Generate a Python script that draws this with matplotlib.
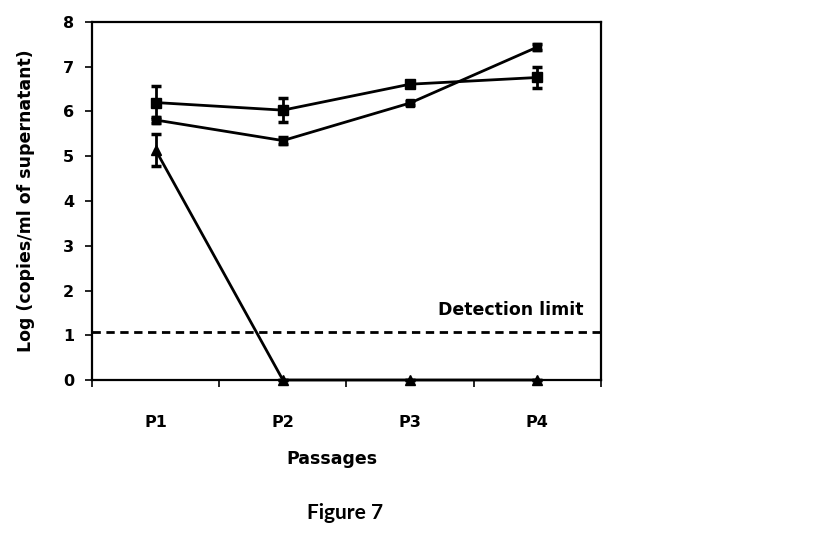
import matplotlib.pyplot as plt
from matplotlib.ticker import FixedLocator, NullFormatter

passagen = ["P1", "P2", "P3", "P4"]
x_pos = [0.5, 1.5, 2.5, 3.5]

# Reihe mit Quadraten (oben bei P1)
reihe_a = [6.20, 6.03, 6.61, 6.76]
fehler_a = [0.37, 0.27, 0.05, 0.24]

# Reihe mit kleinen Markern (Mitte bei P1)
reihe_b = [5.81, 5.35, 6.19, 7.44]
fehler_b = [0.06, 0.08, 0.05, 0.07]

# Reihe mit Dreiecken
reihe_c = [5.14, 0.0, 0.0, 0.0]
fehler_c = [0.36, 0.0, 0.0, 0.0]

nachweisgrenze = 1.07

fett = {"weight": "bold", "family": "DejaVu Sans"}

fig = plt.figure(figsize=(8.15, 5.35), dpi=100)
ax = fig.add_axes([0.1129, 0.2897, 0.6245, 0.6692])

for werte, fehler, marker, groesse in [(reihe_a, fehler_a, "s", 7),
                                       (reihe_b, fehler_b, "s", 5.5),
                                       (reihe_c, fehler_c, "^", 7.5)]:
    teile = ax.errorbar(x_pos, werte, yerr=fehler, color="black", lw=2.0, marker=marker,
                        markersize=groesse, capsize=3.5, capthick=2.5, elinewidth=2.0)
    for kuenstler in teile.lines[0:1] + tuple(teile.lines[1]) + tuple(teile.lines[2]):
        kuenstler.set_clip_on(False)

ax.axhline(nachweisgrenze, color="black", lw=2.0, ls=(0, (3, 2)))
ax.text(3.86, 1.56, "Detection limit", ha="right", va="center", fontsize=12.5, **fett)

ax.set_xlim(0, 4)
ax.set_ylim(0, 8)
ax.xaxis.set_major_locator(FixedLocator([0, 1, 2, 3, 4]))
ax.xaxis.set_major_formatter(NullFormatter())
ax.xaxis.set_minor_locator(FixedLocator(x_pos))
ax.set_xticklabels(passagen, minor=True)
ax.tick_params(axis="x", which="major", direction="out", length=5, width=1.2)
ax.tick_params(axis="x", which="minor", length=0, pad=25, labelsize=11.5)
ax.tick_params(axis="y", direction="out", length=5, width=1.2, pad=8, labelsize=11.5)
ax.set_yticks(range(0, 9))

for lbl in ax.get_xticklabels(minor=True) + ax.get_yticklabels():
    lbl.set_fontweight("bold")

for spine in ax.spines.values():
    spine.set_linewidth(1.6)

ax.set_ylabel("Log (copies/ml of supernatant)", fontsize=12.5, labelpad=20, **fett)
ax.set_xlabel("Passages", fontsize=12.5, **fett)
ax.xaxis.set_label_coords(0.4715, -0.196)

fig.text(345 / 815, 1 - 513 / 535, "Figure 7", ha="center", va="center",
         fontsize=15, weight="bold", family="Lato")

fig.savefig("out.png", dpi=100)
